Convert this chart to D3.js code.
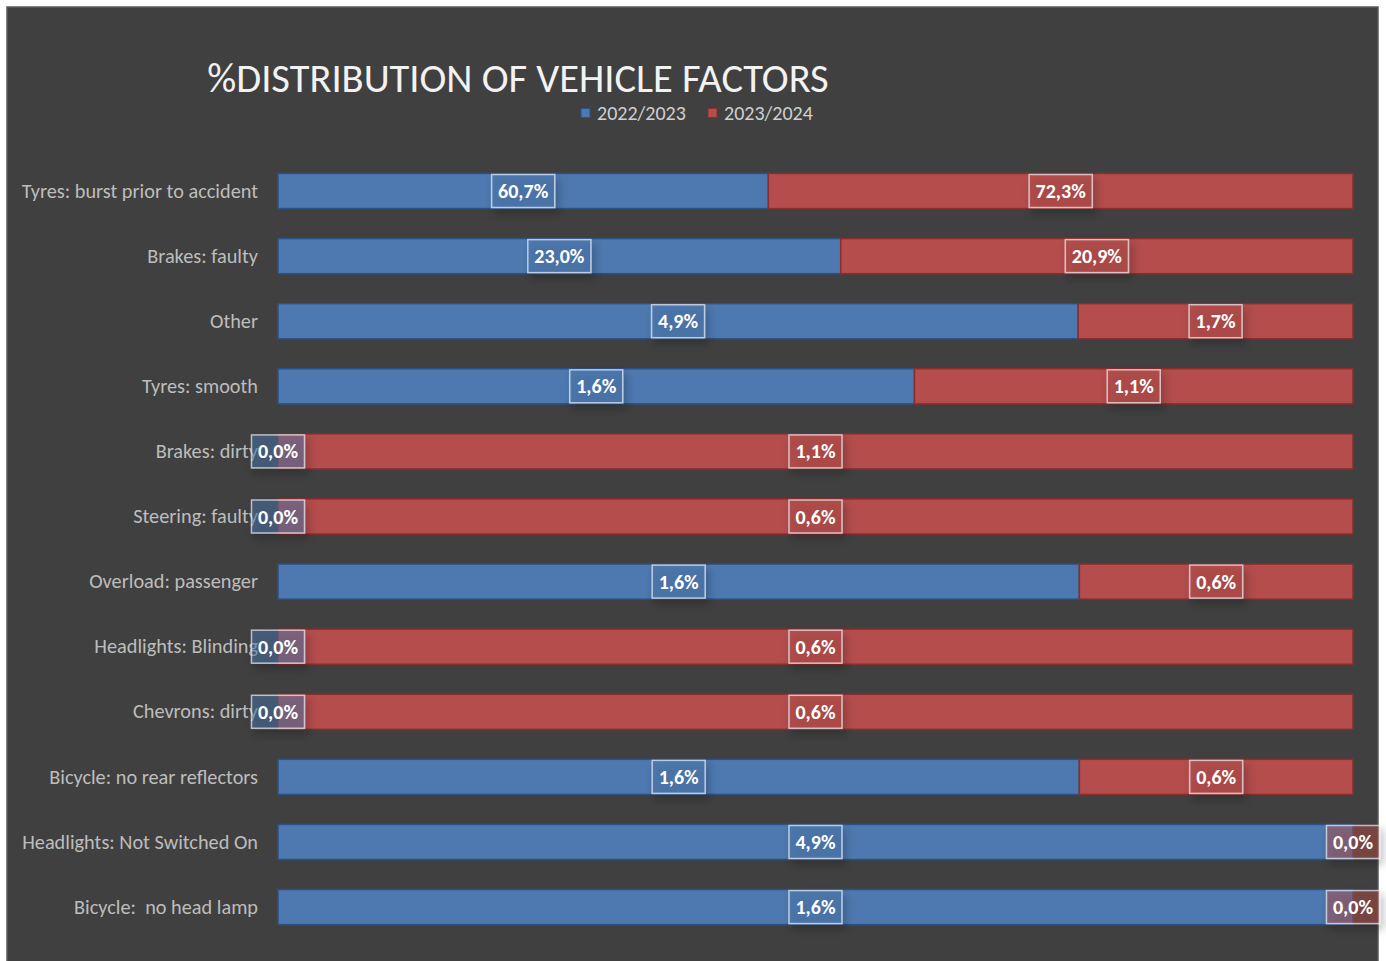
<!DOCTYPE html>
<html><head><meta charset="utf-8">
<script src="https://cdn.jsdelivr.net/npm/d3@7"></script>
<style>body{margin:0;background:#fff;} svg{display:block} text{white-space:pre}</style>
</head><body>
<svg id="c" width="1386" height="961"></svg>
<script>
const categories = ["Tyres: burst prior to accident","Brakes: faulty","Other","Tyres: smooth","Brakes: dirty","Steering: faulty","Overload: passenger","Headlights: Blinding","Chevrons: dirty","Bicycle: no rear reflectors","Headlights: Not Switched On","Bicycle:  no head lamp"];
const seriesNames = ["2022/2023","2023/2024"];
const values2022 = [60.66, 22.96, 4.92, 1.64, 0.0, 0.0, 1.64, 0.0, 0.0, 1.64, 4.92, 1.64];
const values2023 = [72.32, 20.90, 1.69, 1.13, 1.13, 0.56, 0.56, 0.56, 0.56, 0.56, 0.0, 0.0];
const titleText = "%DISTRIBUTION OF VEHICLE FACTORS";

const FONT = "Carlito, 'Liberation Sans Narrow', 'Noto Sans', sans-serif";
const colors = ["#4d79b0", "#b44d4c"];
const strokes = ["#2c5183", "#8a2d2d"];

const svg = d3.select("#c");
const defs = svg.append("defs");
const f = defs.append("filter").attr("id","sh").attr("x","-30%").attr("y","-30%").attr("width","180%").attr("height","200%");
f.append("feDropShadow").attr("dx",3).attr("dy",5).attr("stdDeviation",4).attr("flood-color","#000").attr("flood-opacity",0.45);

// background
svg.append("rect").attr("x",7).attr("y",7).attr("width",1371).attr("height",970)
  .attr("fill","#404040").attr("stroke","#5a5a5a").attr("stroke-width",1.5);

// title
svg.append("text").attr("x",518).attr("y",92).attr("text-anchor","middle")
  .attr("font-family",FONT).attr("font-size",40.5).attr("fill","#f2f2f2").text(titleText);

// legend
const legendItems = [{name:seriesNames[0], x:581},{name:seriesNames[1], x:708}];
legendItems.forEach((d,i)=>{
  svg.append("rect").attr("x",d.x).attr("y",108.5).attr("width",9).attr("height",9)
    .attr("fill",colors[i]).attr("stroke",strokes[i]).attr("stroke-width",1);
  svg.append("text").attr("x",d.x+16).attr("y",119.5).attr("font-family",FONT).attr("font-size",20)
    .attr("fill","#d0d0d0").text(d.name);
});

const data = categories.map((c,i)=>({cat:c, a:values2022[i], b:values2023[i]}));
const stack = d3.stack().keys(["a","b"]).offset(d3.stackOffsetExpand);
const series = stack(data);

const x = d3.scaleLinear().domain([0,1]).range([278,1353]);
const y = d3.scaleBand().domain(categories).range([143.5,954.6]).paddingInner(0.46).paddingOuter(0.46);

// category axis labels
const yAxis = d3.axisLeft(y).tickSize(0).tickPadding(20);
const ga = svg.append("g").attr("transform","translate(278,0)").call(yAxis);
ga.select(".domain").remove();
ga.selectAll("text").attr("font-family",FONT).attr("font-size",20.3).attr("fill","#bdbdbd").attr("dy","0.33em");

// bars
series.forEach((s,i)=>{
  svg.append("g").selectAll("rect").data(s).join("rect")
    .attr("x",d=>x(d[0])).attr("y",d=>y(d.data.cat))
    .attr("width",d=>x(d[1])-x(d[0])).attr("height",y.bandwidth())
    .attr("fill",colors[i]).attr("stroke",strokes[i]).attr("stroke-width",1.5);
});

// data labels
const fmt = v => d3.format(".1f")(v).replace(".",",") + "%";
series.forEach((s,i)=>{
  const g = svg.append("g");
  s.forEach(d=>{
    const v = d.data[s.key];
    const cx = (x(d[0])+x(d[1]))/2;
    const cy = y(d.data.cat)+y.bandwidth()/2;
    const lg = g.append("g");
    const box = lg.append("rect");
    const t = lg.append("text").attr("x",cx).attr("y",cy+7).attr("text-anchor","middle")
      .attr("font-family",FONT).attr("font-size",20).attr("font-weight","bold").attr("fill","#ffffff").text(fmt(v));
    const w = t.node().getComputedTextLength()+13;
    box.attr("x",cx-w/2).attr("y",cy-16.5).attr("width",w).attr("height",33)
      .attr("fill",colors[i]).attr("fill-opacity",0.45)
      .attr("stroke","rgba(235,240,248,0.7)").attr("stroke-width",1.5)
      .attr("filter","url(#sh)");
  });
});
</script>
</body></html>
